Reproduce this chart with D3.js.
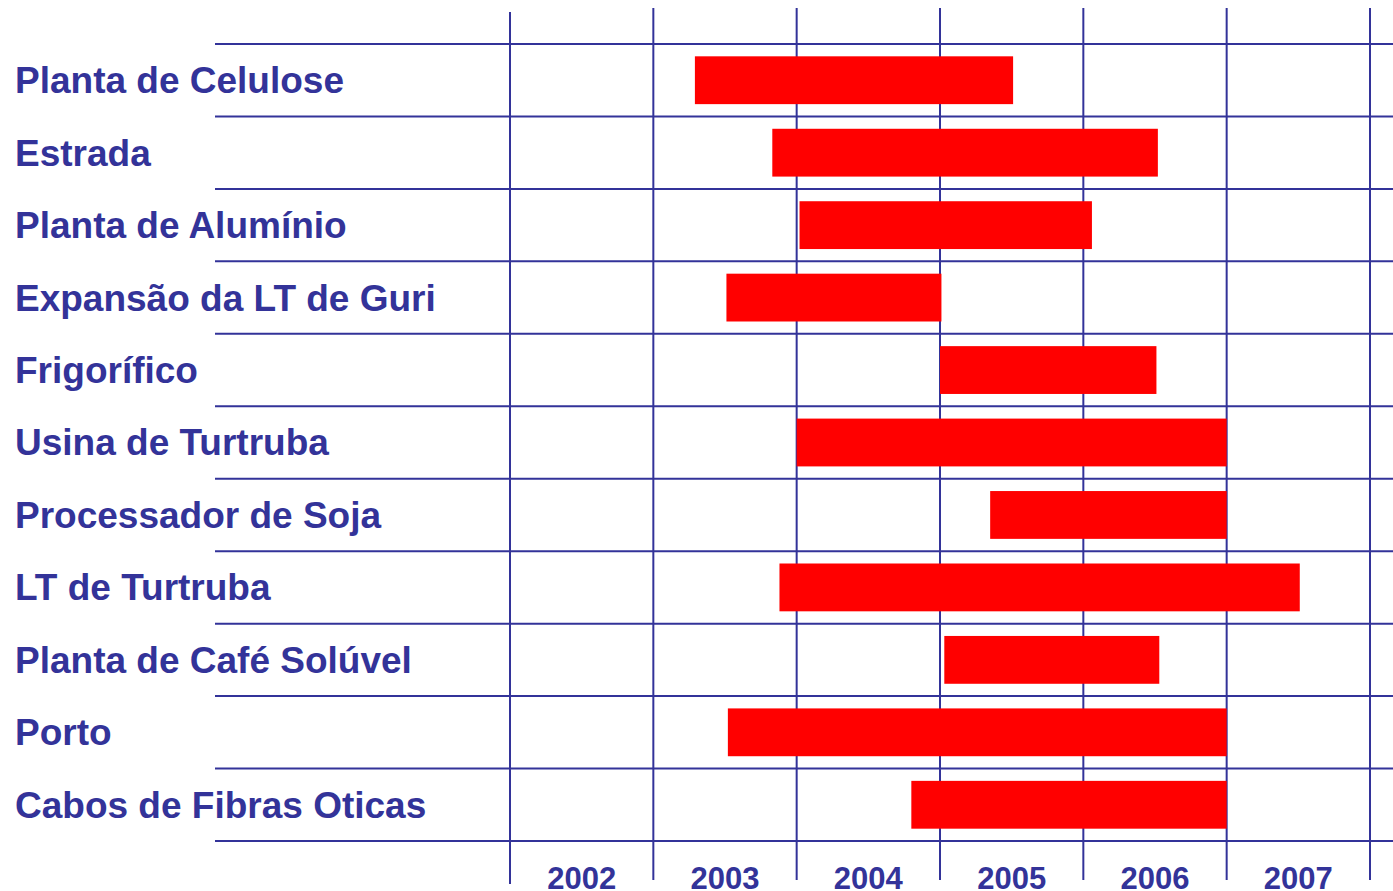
<!DOCTYPE html>
<html>
<head>
<meta charset="utf-8">
<script src="https://cdn.jsdelivr.net/npm/d3@7"></script>
<style>
  html, body { margin: 0; padding: 0; background: #fff; }
  svg { display: block; }
</style>
</head>
<body>
<div id="main"></div>
<script>
// projects, top to bottom
const tasks = [
    'Planta de Celulose',
    'Estrada',
    'Planta de Alumínio',
    'Expansão da LT de Guri',
    'Frigorífico',
    'Usina de Turtruba',
    'Processador de Soja',
    'LT de Turtruba',
    'Planta de Café Solúvel',
    'Porto',
    'Cabos de Fibras Oticas'
];
// start / end as decimal years
const starts = [2003.29, 2003.83, 2004.02, 2003.51, 2005.0, 2004.0, 2005.35, 2003.88, 2005.03, 2003.52, 2004.8];
const ends = [2005.51, 2006.52, 2006.06, 2005.01, 2006.51, 2007.0, 2007.0, 2007.51, 2006.53, 2007.0, 2007.0];
const years = [2002, 2003, 2004, 2005, 2006, 2007];

const WIDTH = 1393, HEIGHT = 891;
const BLUE = '#333399', RED = '#ff0000';

const svg = d3.select('#main').append('svg').attr('width', WIDTH).attr('height', HEIGHT);

const x = d3.scaleLinear().domain([2002, 2008]).range([510, 1370]);
const y = d3.scaleBand().domain(tasks).range([44, 841]).paddingInner(0.34).paddingOuter(0.17);

const rows = tasks.map((name, i) => ({ name, start: starts[i], end: ends[i] }));

// horizontal separators
const hLines = d3.range(tasks.length + 1).map(i => y.range()[0] + i * y.step());
svg.selectAll('line.h').data(hLines).enter().append('line').attr('class', 'h')
    .attr('x1', 215).attr('x2', WIDTH)
    .attr('y1', d => d).attr('y2', d => d)
    .attr('stroke', BLUE).attr('stroke-width', 2);

// vertical year lines
const vYears = d3.range(2002, 2009);
svg.selectAll('line.v').data(vYears).enter().append('line').attr('class', 'v')
    .attr('x1', d => x(d)).attr('x2', d => x(d))
    .attr('y1', (d, i) => i === 0 ? 12 : 8)
    .attr('y2', (d, i) => i === 0 ? 884 : 880)
    .attr('stroke', BLUE).attr('stroke-width', 2);

// bars
svg.selectAll('rect.bar').data(rows).enter().append('rect').attr('class', 'bar')
    .attr('x', d => x(d.start))
    .attr('y', d => y(d.name))
    .attr('width', d => x(d.end) - x(d.start))
    .attr('height', y.bandwidth())
    .attr('fill', RED);

// task labels
svg.selectAll('text.task').data(rows).enter().append('text').attr('class', 'task')
    .attr('x', 15)
    .attr('y', d => y(d.name) + y.bandwidth() / 2)
    .attr('dy', '0.35em')
    .attr('font-family', 'Liberation Sans, Arial, sans-serif')
    .attr('font-weight', 'bold')
    .attr('font-size', 37)
    .attr('fill', BLUE)
    .text(d => d.name);

// year labels
svg.selectAll('text.year').data(years).enter().append('text').attr('class', 'year')
    .attr('x', d => x(d + 0.5))
    .attr('y', 889)
    .attr('text-anchor', 'middle')
    .attr('font-family', 'Liberation Sans, Arial, sans-serif')
    .attr('font-weight', 'bold')
    .attr('font-size', 31)
    .attr('fill', BLUE)
    .text(d => d);
</script>
</body>
</html>
